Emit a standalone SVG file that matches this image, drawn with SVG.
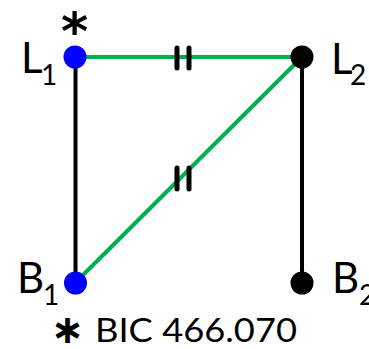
<svg xmlns="http://www.w3.org/2000/svg" width="369" height="349" viewBox="0 0 369 349">
<style>
.lbl{font-family:Lato,"Open Sans",sans-serif;font-size:42px;fill:#000}
.sub{font-family:Lato,"Open Sans",sans-serif;font-size:28px;fill:#000}
.note{font-family:Lato,"Open Sans",sans-serif;font-size:33px;fill:#000}
.star{font-family:"DejaVu Sans",sans-serif;font-weight:bold;fill:#000}
.blk{stroke:#000;stroke-width:4;fill:none}
.grn{stroke:#00B050;stroke-width:4;fill:none}
.tick{stroke:#000;stroke-width:5;stroke-linecap:round}
</style>
<rect width="369" height="349" fill="#fff"/>
<g id="connectors">
<line class="blk" x1="75.5" y1="57" x2="75.5" y2="283"/>
<line class="blk" x1="302" y1="57" x2="302" y2="283"/>
<line class="grn" x1="75" y1="57" x2="302" y2="57"/>
<line class="grn" x1="75" y1="283" x2="302" y2="57"/>
<g id="eq-top"><line class="tick" x1="177" y1="48" x2="177" y2="68"/><line class="tick" x1="189" y1="48" x2="189" y2="68"/></g>
<g id="eq-diag"><line class="tick" x1="177" y1="168" x2="177" y2="189"/><line class="tick" x1="189" y1="168" x2="189" y2="189"/></g>
</g>
<g id="L1"><circle cx="75" cy="57" r="11.5" fill="#0000FF"/><text class="lbl" x="21" y="73">L</text><text class="sub" x="41" y="85">1</text><text class="star" x="74.5" y="49" font-size="52" text-anchor="middle">*</text></g>
<g id="L2"><circle cx="302" cy="57" r="11.5" fill="#000"/><text class="lbl" x="331" y="74">L</text><text class="sub" x="350" y="85">2</text></g>
<g id="B1"><circle cx="75.5" cy="283" r="11.5" fill="#0000FF"/><text class="lbl" x="17" y="293">B</text><text class="sub" x="43" y="305">1</text></g>
<g id="B2"><circle cx="302" cy="283" r="11.5" fill="#000"/><text class="lbl" x="332" y="293">B</text><text class="sub" x="359" y="305">2</text></g>
<g id="note"><text class="star" x="67.5" y="343" font-size="40" text-anchor="middle">∗</text><text class="note" x="95" y="342" textLength="202" lengthAdjust="spacingAndGlyphs">BIC 466.070</text></g>
</svg>
